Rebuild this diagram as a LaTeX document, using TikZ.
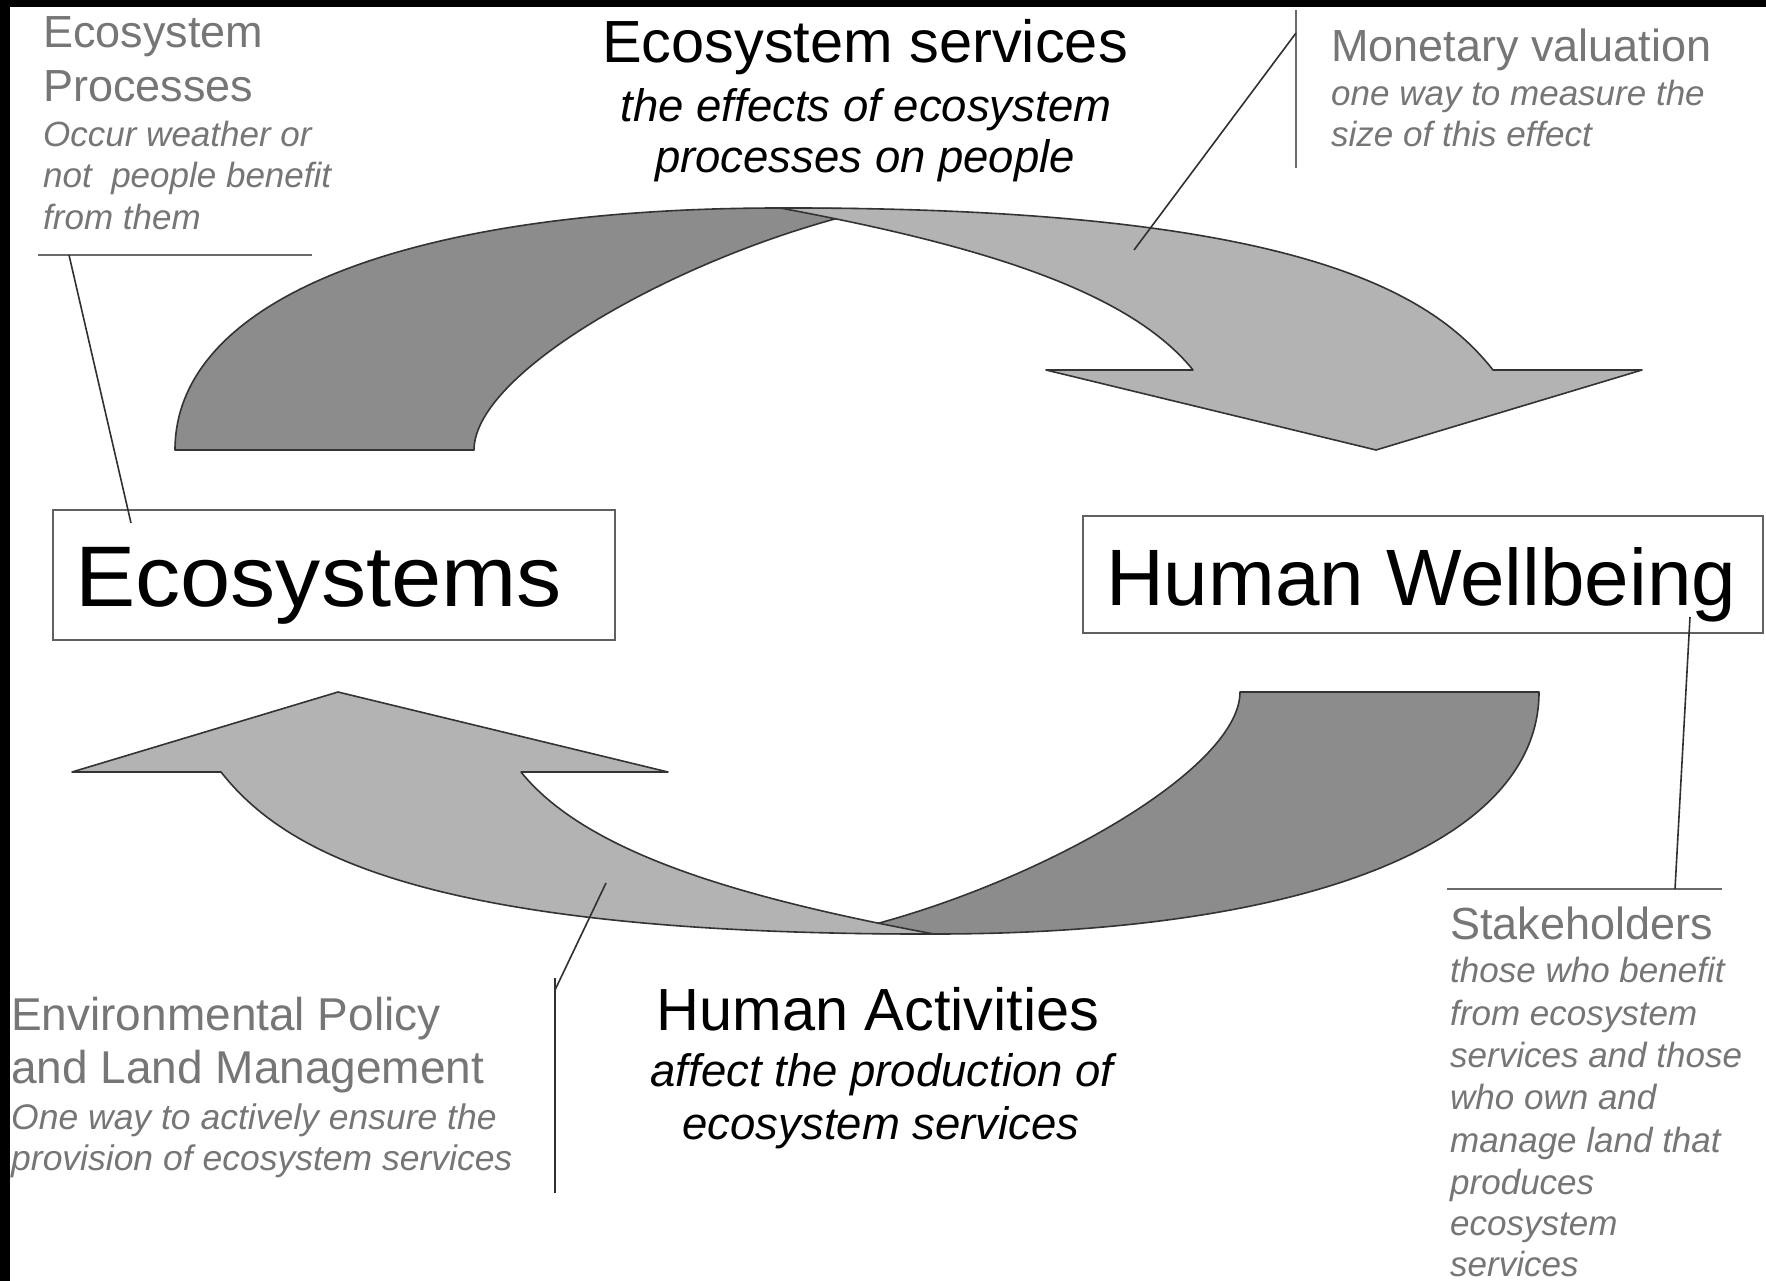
\documentclass[tikz,border=0pt]{standalone}
\usepackage{fontspec}
\setmainfont{Liberation Sans}
\definecolor{darkfill}{HTML}{8C8C8C}
\definecolor{lightfill}{HTML}{B3B3B3}
\definecolor{outline}{HTML}{333333}
\definecolor{notegray}{HTML}{767676}
\definecolor{rulegray}{HTML}{6A6A6A}
\definecolor{leadercol}{HTML}{303030}
\definecolor{boxgray}{HTML}{606060}
\begin{document}
\begin{tikzpicture}[x=1pt,y=-1pt,
  arrowdark/.style={fill=darkfill, draw=outline, line width=1.6pt, line join=round},
  arrowlight/.style={fill=lightfill, draw=outline, line width=1.6pt, line join=round},
  bigbox/.style={draw=boxgray, line width=2pt, fill=white, inner sep=0pt},
  bigtext/.style={inner sep=0pt, font=\fontsize{86}{100}\selectfont},
  headtext/.style={inner sep=0pt, font=\fontsize{59.5}{70}\selectfont},
  headital/.style={inner sep=0pt, font=\fontsize{45.5}{54}\selectfont\itshape},
  notetitle/.style={inner sep=0pt, text=notegray, font=\fontsize{45}{54}\selectfont},
  noteital/.style={inner sep=0pt, text=notegray, font=\fontsize{35}{42}\selectfont\itshape},
  leader/.style={draw=leadercol, line width=1.6pt},
  rulestyle/.style={draw=rulegray, line width=2.2pt}]

% frame: black strips at top and left
\fill[black] (0,0) rectangle (1766,1281);
\fill[white] (10,7) rectangle (1766,1281);
\useasboundingbox (0,0) rectangle (1766,1281);

% ---- curved arrows (upper pair) ----
\newcommand{\arrowpair}{%
  \path[arrowdark] (175,450) .. controls (175,300) and (405,208) .. (780,208)
     -- (875,209) .. controls (690,250) and (474,370) .. (474,450) -- cycle;
  \path[arrowlight] (780,208) .. controls (1290,207) and (1430,290) .. (1493,370)
     -- (1642,370) -- (1376,450) -- (1046,370) -- (1193,370)
     .. controls (1130,292) and (985,246) .. (780,208) -- cycle;
}
\arrowpair
% ---- lower pair: same shapes turned half round ----
\begin{scope}[rotate around={180:(857,571)}]
\arrowpair
\end{scope}

% ---- main boxes ----
\node[bigbox, minimum width=562pt, minimum height=130pt] (eco) at (334,575) {};
\node[bigtext, anchor=base west, xscale=1.05] (ecolabel) at (75,606) {Ecosystems};
\node[bigbox, minimum width=680pt, minimum height=117pt] (hw) at (1423,574.5) {};
\node[bigtext, anchor=base west, font=\fontsize{80}{96}\selectfont] (hwlabel) at (1106,605) {Human Wellbeing};

% ---- centre headings ----
\node[headtext, anchor=base] (es1) at (865,63) {Ecosystem services};
\node[headital, anchor=base] (es2) at (866,122) {the effects of ecosystem};
\node[headital, anchor=base] (es3) at (865,173) {processes on people};

\node[headtext, anchor=base] (ha1) at (878,1030) {Human Activities};
\node[headital, anchor=base] (ha2) at (882,1086) {affect the production of};
\node[headital, anchor=base] (ha3) at (881,1139) {ecosystem services};

% ---- Ecosystem Processes note ----
\node[notetitle, anchor=base west] (ep1) at (43,48) {Ecosystem};
\node[notetitle, anchor=base west] (ep2) at (43,102) {Processes};
\node[noteital, anchor=base west] (ep3) at (43,147) {Occur weather or};
\node[noteital, anchor=base west] (ep4) at (43,188) {not\ \ people benefit};
\node[noteital, anchor=base west] (ep5) at (43,230) {from them};
\coordinate (epruleL) at (38,255);
\coordinate (epruleR) at (312,255);
\coordinate (epfoot) at (69,255);
\coordinate (epend) at (131,523);
\draw[rulestyle] (epruleL) -- (epruleR);
\draw[leader] (epfoot) -- (epend);

% ---- Monetary valuation note ----
\node[notetitle, anchor=base west] (mv1) at (1331,62) {Monetary valuation};
\node[noteital, anchor=base west] (mv2) at (1331,106) {one way to measure the};
\node[noteital, anchor=base west] (mv3) at (1331,147) {size of this effect};
\coordinate (mvbarT) at (1296,10);
\coordinate (mvbarB) at (1296,168);
\coordinate (mvjoin) at (1296,33);
\coordinate (mvend) at (1134,250);
\draw[rulestyle] (mvbarT) -- (mvbarB);
\draw[leader] (mvjoin) -- (mvend);

% ---- Stakeholders note ----
\node[notetitle, anchor=base west] (sh1) at (1450,939) {Stakeholders};
\node[noteital, anchor=base west] (sh2) at (1450,982) {those who benefit};
\node[noteital, anchor=base west] (sh3) at (1450,1025) {from ecosystem};
\node[noteital, anchor=base west] (sh4) at (1450,1067) {services and those};
\node[noteital, anchor=base west] (sh5) at (1450,1109) {who own and};
\node[noteital, anchor=base west] (sh6) at (1450,1152) {manage land that};
\node[noteital, anchor=base west] (sh7) at (1450,1194) {produces};
\node[noteital, anchor=base west] (sh8) at (1450,1235) {ecosystem};
\node[noteital, anchor=base west] (sh9) at (1450,1276) {services};
\coordinate (shruleL) at (1447,889);
\coordinate (shruleR) at (1722,889);
\coordinate (shfoot) at (1675,889);
\coordinate (shend) at (1690,617);
\draw[rulestyle] (shruleL) -- (shruleR);
\draw[leader] (shfoot) -- (shend);

% ---- Environmental Policy note ----
\node[notetitle, anchor=base west, font=\fontsize{46}{54}\selectfont] (en1) at (11,1030) {Environmental Policy};
\node[notetitle, anchor=base west, font=\fontsize{46}{54}\selectfont] (en2) at (11,1083) {and Land Management};
\node[noteital, anchor=base west, font=\fontsize{35.5}{42}\selectfont\itshape] (en3) at (11,1129) {One way to actively ensure the};
\node[noteital, anchor=base west, font=\fontsize{35.5}{42}\selectfont\itshape] (en4) at (11,1170) {provision of ecosystem services};
\coordinate (enbarT) at (555,978);
\coordinate (enbarB) at (555,1193);
\coordinate (enjoin) at (555,990);
\coordinate (enend) at (606,883);
\draw[leader] (enbarT) -- (enbarB);
\draw[leader] (enjoin) -- (enend);

\end{tikzpicture}
\end{document}
